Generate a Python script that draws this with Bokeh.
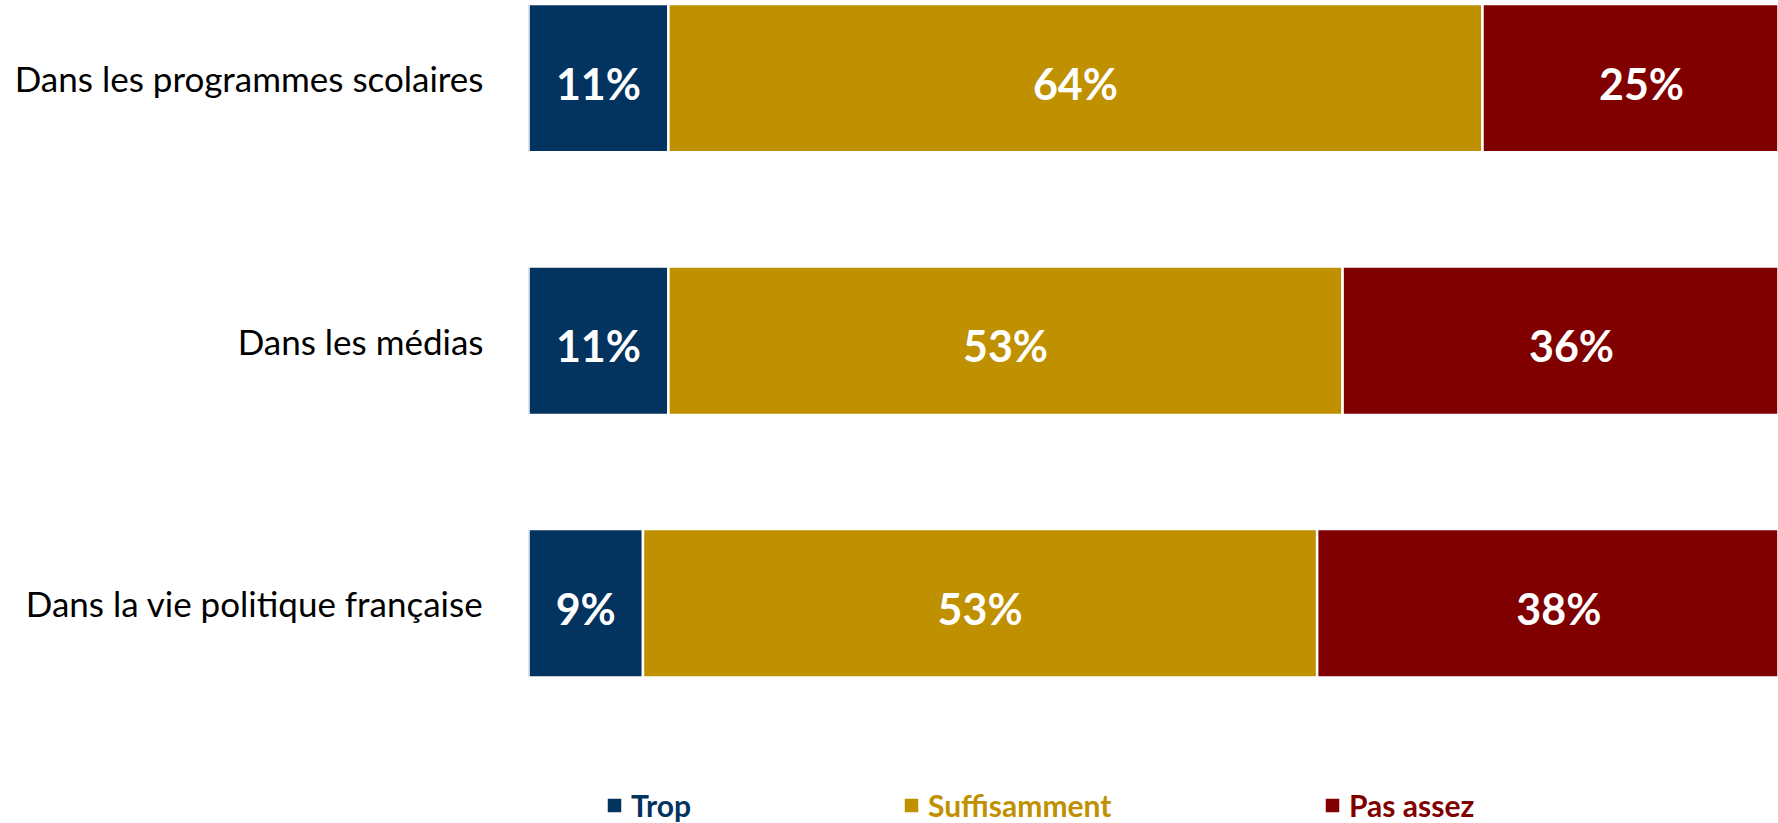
from bokeh.plotting import figure
from bokeh.models import ColumnDataSource, Range1d, FixedTicker, Legend, LegendItem
from bokeh.core.properties import value
from bokeh.embed import file_html
from bokeh.resources import INLINE

categories = ["Dans les programmes scolaires", "Dans les médias", "Dans la vie politique française"]
series = ["Trop", "Suffisamment", "Pas assez"]
trop = [11, 11, 9]
suffisamment = [64, 53, 53]
pas_assez = [25, 36, 38]
colors = ["#03335F", "#BF9000", "#800000"]

values = [trop, suffisamment, pas_assez]
n = len(categories)
ys = [n - 1 - i for i in range(n)]

W, H = 1778, 823
p = figure(width=W, height=H, output_backend="svg", toolbar_location=None,
           x_range=Range1d(0, 98.27), y_range=Range1d(-0.839, 2.296),
           min_border_left=528, min_border_right=0, min_border_top=0, min_border_bottom=0,
           x_axis_location=None)
p.outline_line_color = None
p.grid.visible = False
p.background_fill_color = "white"

renderers = []
left = [0.0] * n
for s, vals, c in zip(series, values, colors):
    right = [l + v for l, v in zip(left, vals)]
    src = ColumnDataSource(dict(y=ys, left=left, right=right,
                                mid=[(l + r) / 2 for l, r in zip(left, right)],
                                lab=[f"{v}%" for v in vals]))
    r = p.hbar(y="y", left="left", right="right", height=0.565, source=src,
               fill_color=c, line_color="white", line_width=2.5)
    p.text(x="mid", y="y", text="lab", source=src, text_color="white",
           text_font=value("Lato"), text_font_style="bold", text_font_size="43px",
           text_align="center", text_baseline="middle", y_offset=5)
    renderers.append(r)
    left = right

ax = p.yaxis[0]
ax.ticker = FixedTicker(ticks=ys)
ax.major_label_overrides = {y: c for y, c in zip(ys, categories)}
ax.axis_line_color = None
ax.major_tick_line_color = None
ax.minor_tick_line_color = None
ax.major_label_standoff = 39
ax.major_label_text_font = "Lato"
ax.major_label_text_font_size = "35px"
ax.major_label_text_color = "black"
ax.major_label_text_baseline = "top"

legend_x = [76, 373, 794]
for s, r, c, lx in zip(series, renderers, colors, legend_x):
    lg = Legend(items=[LegendItem(label=s, renderers=[r])], location=(lx, 0),
                label_text_color=c, label_text_font="Lato", label_text_font_style="bold",
                label_text_font_size="30px", glyph_width=20, glyph_height=20,
                label_standoff=7, padding=0, margin=0, spacing=0,
                background_fill_alpha=0, border_line_alpha=0)
    p.add_layout(lg, "center")

open("out.html", "w").write(file_html(p, INLINE))
